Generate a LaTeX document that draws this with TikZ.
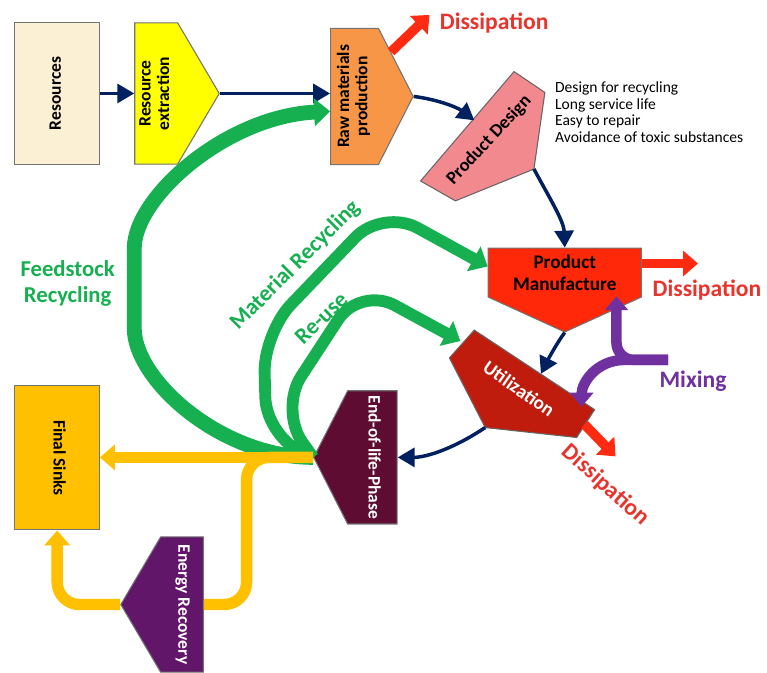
\documentclass[tikz,border=0pt]{standalone}
\usepackage{fontspec}
\setmainfont{Carlito}
\usepackage{tikz}
\usetikzlibrary{shapes}
\usetikzlibrary{shapes.symbols}
\usetikzlibrary{arrows.meta}
\usetikzlibrary{positioning}
\usetikzlibrary{calc}

\definecolor{navyflow}{RGB}{0,32,96}
\definecolor{loopgreen}{RGB}{22,176,80}
\definecolor{dissred}{RGB}{255,42,18}
\definecolor{disstext}{RGB}{232,52,44}
\definecolor{mixpurple}{RGB}{112,48,160}
\definecolor{sinkgold}{RGB}{255,192,0}
\definecolor{resfill}{RGB}{252,240,212}
\definecolor{extrfill}{RGB}{255,255,0}
\definecolor{rawfill}{RGB}{247,150,70}
\definecolor{designfill}{RGB}{242,137,142}
\definecolor{manfill}{RGB}{255,40,8}
\definecolor{utilfill}{RGB}{192,28,14}
\definecolor{eolfill}{RGB}{94,12,50}
\definecolor{energyfill}{RGB}{98,22,106}

\newcommand{\uptext}[1]{\rotatebox{90}{\begin{tabular}{@{}c@{}}#1\end{tabular}}}
\newcommand{\downtext}[1]{\rotatebox{-90}{\begin{tabular}{@{}c@{}}#1\end{tabular}}}

\begin{document}
\begin{tikzpicture}[
        x=0.02cm, y=-0.02cm,
        box/.style = {draw=black!55, line width=0.6pt, inner sep=0pt,
                      font=\bfseries\fontsize{10}{10.5}\selectfont},
        stage/.style = {box, signal, signal from=nowhere},
        flow/.style = {draw=navyflow, line width=2pt,
                       -{Triangle[length=0.34cm, width=0.38cm]}},
        loop/.style = {draw=loopgreen, line width=6.8pt, rounded corners=0.8cm,
                       -{Triangle[length=0.32cm, width=0.55cm]}},
        dissip/.style = {draw=dissred, line width=5.5pt,
                         -{Triangle[length=0.3cm, width=0.5cm]}},
        mixflow/.style = {draw=mixpurple, line width=6pt,
                          -{Triangle[length=0.28cm, width=0.46cm]}},
        sink/.style = {draw=sinkgold, line width=6.5pt,
                       -{Triangle[length=0.3cm, width=0.5cm]}},
        looplabel/.style = {text=loopgreen, font=\bfseries\fontsize{13}{15}\selectfont},
        disslabel/.style = {text=disstext, font=\bfseries\fontsize{13.5}{15}\selectfont},
        ]
    \path[fill=white] (0,0) rectangle (767,676);

    % stages of the product chain
    \node[box, fill=resfill, minimum width=1.7cm, minimum height=2.84cm] (res) at (57.5,94) {\uptext{Resources}};
    \node[stage, fill=extrfill, signal pointer angle=119, minimum width=1.7cm,
          minimum height=2.84cm, anchor=west] (extr) at (135,94) {\uptext{Resource\\extraction}};
    \node[stage, fill=rawfill, signal pointer angle=126, minimum width=1.66cm,
          minimum height=2.74cm, anchor=west] (raw) at (332,97) {\uptext{Raw materials\\production}};
    \filldraw[fill=designfill, draw=black!60, line width=0.6pt]
        (517,72) -- (548,93) -- (537,170) -- (458,202) -- (423,182) -- cycle;
    \node[font=\bfseries\fontsize{10.5}{12}\selectfont, rotate=47] (design) at (492,141) {Product Design};
    \node[stage, signal to=south, fill=manfill, signal pointer angle=131, minimum width=3.08cm,
          minimum height=1.46cm, anchor=north, align=center,
          font=\bfseries\fontsize{11}{12.5}\selectfont] (man) at (568,249) {Product\\Manufacture};
    \filldraw[fill=utilfill, draw=black!60, line width=0.6pt]
        (477,332) -- (598,412) -- (580,440) -- (488,430) -- (452,360) -- cycle;
    \node[text=white, font=\bfseries\fontsize{11}{12}\selectfont, rotate=-35] (util) at (522,391) {Utilization};
    \node[stage, signal to=west, fill=eolfill, text=white, signal pointer angle=126,
          minimum width=1.68cm, minimum height=2.68cm, anchor=east] (eol) at (400,460) {\downtext{End-of-life-Phase}};
    \node[box, fill=sinkgold, minimum width=1.7cm, minimum height=2.9cm] (fs) at (57.5,460.5) {\downtext{Final Sinks}};
    \node[stage, signal to=west, fill=energyfill, text=white, signal pointer angle=119,
          minimum width=1.66cm, minimum height=2.72cm, anchor=east] (er) at (205,608) {\downtext{Energy Recovery}};

    % free ends of the connectors
    \coordinate (pd-in) at (477,121);
    \coordinate (pd-out) at (537,170);
    \coordinate (ut-in) at (544,376);
    \coordinate (ut-out) at (488,430);
    \coordinate (ut-edge) at (588,427);
    \coordinate (reuse-in) at (463,343);
    \coordinate (d1) at (432,15);
    \coordinate (d2) at (702,265);
    \coordinate (d3) at (619,459);
    \coordinate (mixin) at (672,362);
    \coordinate (mix-up) at (620,298);
    \coordinate (mix-dn) at (585,409);

    % main chain
    \draw[flow] (res.east) -- (extr.west);
    \draw[flow] (extr.east) -- (extr.east -| raw.west);
    \draw[flow] (raw.east) .. controls (440,100) and (460,108) .. (pd-in);
    \draw[flow] (pd-out) .. controls (552,198) and (567,222) .. (man.north);
    \draw[flow] (man.south) .. controls (562,342) and (552,360) .. (ut-in);
    \draw[flow] (ut-out) .. controls (455,452) and (428,460) .. (eol.east);

    % dissipation
    \draw[dissip] ($(raw.north east)!0.35!(raw.east)$) -- (d1);
    \draw[dissip] (man.east |- d2) -- (d2);
    \draw[dissip] (ut-edge) -- (d3);
    \node[disslabel] (diss1) at (497,23) {Dissipation};
    \node[disslabel] (diss2) at (711,292) {Dissipation};
    \node[disslabel, rotate=-42] (diss3) at (609,488) {Dissipation};

    % recycling loops
    \draw[loop, line width=8.5pt] (eol.west) .. controls (222,460) and (135,382) .. (135,290)
        .. controls (135,198) and (228,117) .. ([yshift=-0.3cm]raw.west);
    \draw[loop] (eol.west) -- (268,440) -- (265,335) -- (385,210) -- ([yshift=-0.38cm]man.north west);
    \draw[loop] (eol.west) -- (281,412) -- (362,288) -- (reuse-in);
    \node[looplabel, align=center] (feedlbl) at (68,285) {Feedstock\\Recycling};
    \node[looplabel, rotate=45] (matlbl) at (297,267) {Material Recycling};
    \node[looplabel, rotate=44] (reuselbl) at (323,320) {Re-use};

    % mixing
    \draw[mixflow, rounded corners=0.35cm] (mixin) -| (mix-up);
    \draw[mixflow] (mixin) -- (628,362) .. controls (600,362) and (585,385) .. (mix-dn);
    \node[text=mixpurple, font=\bfseries\fontsize{13.5}{15}\selectfont] (mix) at (697,383) {Mixing};

    % final sinks and energy recovery
    \draw[sink] (eol.west) -- (eol.west -| fs.east);
    \draw[sink, -, rounded corners=0.45cm] (eol.west) -- (248,460) |- (er.east);
    \draw[sink, rounded corners=0.45cm] (er.west) -| (fs.south);

    \node[anchor=north west, align=left, inner sep=0pt, font=\fontsize{8.9}{9.5}\selectfont] (design-notes) at (558,82)
        {Design for recycling\\Long service life\\Easy to repair\\Avoidance of toxic substances};
\end{tikzpicture}
\end{document}
